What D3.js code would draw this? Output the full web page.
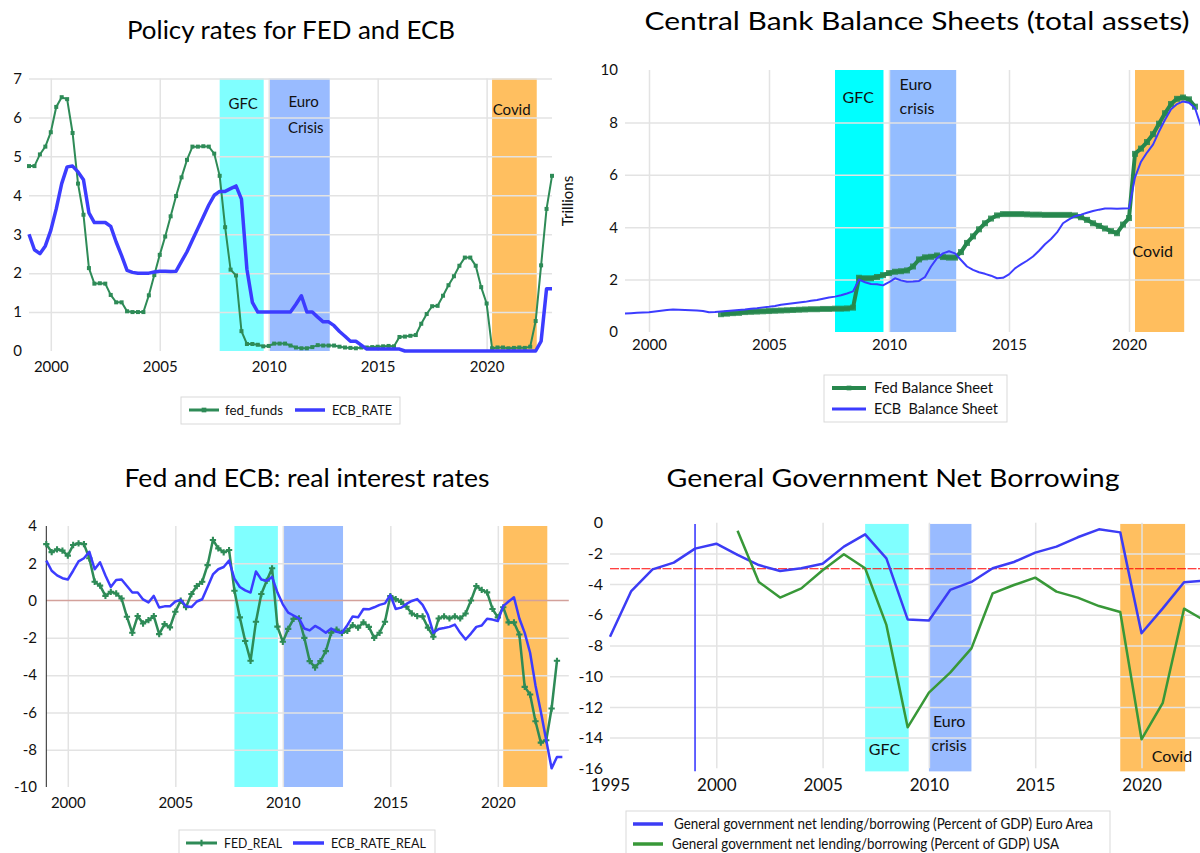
<!DOCTYPE html>
<html>
<head>
<meta charset="utf-8">
<script src="https://cdn.jsdelivr.net/npm/d3@7"></script>
<style>
  body { margin: 0; background: #fff; }
  svg { display: block; }
</style>
</head>
<body>
<div id="viz"></div>
<script>
// ---------------- data ----------------
// quarterly series, first value = 1999 Q1 unless noted
const fedFunds = [
  4.75,4.75,5.05,5.25, 5.62,6.27,6.52,6.47, 5.6,4.3,3.5,2.13, 1.73,1.74,1.73,1.44,
  1.25,1.25,1.02,1.0, 1.0,1.0,1.43,1.95, 2.47,2.94,3.46,3.98, 4.46,4.91,5.25,5.25,
  5.26,5.25,5.07,4.5, 3.18,2.09,1.94,0.51, 0.18,0.18,0.16,0.12, 0.13,0.19,0.19,0.19,
  0.14,0.09,0.07,0.07, 0.1,0.15,0.14,0.14, 0.14,0.11,0.09,0.08, 0.07,0.09,0.09,0.1,
  0.11,0.12,0.13,0.12, 0.36,0.37,0.39,0.41, 0.7,0.95,1.15,1.16, 1.42,1.69,1.92,2.19,
  2.4,2.4,2.19,1.64, 1.22,0.07,0.09,0.09, 0.07,0.08,0.09,0.08, 0.11,0.77,2.2,3.65,
  4.5
];
const ecbRate = [
  3.0,2.6,2.5,2.7, 3.1,3.65,4.3,4.73, 4.75,4.6,4.4,3.55, 3.3,3.3,3.3,3.2,
  2.8,2.45,2.07,2.02, 2.0,2.0,2.0,2.03, 2.05,2.05,2.04,2.05, 2.3,2.55,2.85,3.15,
  3.45,3.75,4.0,4.1, 4.1,4.17,4.24,3.9, 2.1,1.25,1.0,1.0, 1.0,1.0,1.0,1.0,
  1.0,1.2,1.42,1.0, 1.0,0.87,0.75,0.75, 0.65,0.5,0.38,0.25, 0.25,0.15,0.05,0.05,
  0.05,0.05,0.05,0.05, 0.05,0.0,0.0,0.0, 0,0,0,0, 0,0,0,0,
  0,0,0,0, 0,0,0,0, 0,0,0,0, 0.0,0.0,0.25,1.6,
  1.6
];
// Fed balance sheet starts 2003 Q1 (trillions)
const fedBalanceStart = 2003;
const fedBalance = [
  0.68,0.7,0.72,0.73, 0.76,0.77,0.78,0.79, 0.8,0.81,0.82,0.83, 0.84,0.85,0.86,0.87,
  0.87,0.88,0.88,0.89, 0.89,0.9,0.93,2.07, 2.05,2.05,2.1,2.17, 2.25,2.3,2.32,2.35,
  2.5,2.77,2.85,2.87, 2.92,2.86,2.84,2.84, 3.05,3.4,3.65,3.92, 4.15,4.33,4.45,4.5,
  4.5,4.5,4.5,4.49, 4.48,4.48,4.47,4.47, 4.47,4.47,4.47,4.45, 4.38,4.28,4.15,4.05,
  3.95,3.85,3.77,4.1, 4.35,6.8,7.0,7.25, 7.55,7.95,8.35,8.7, 8.9,8.95,8.88,8.6
];
const ecbBalance = [
  0.71,0.72,0.73,0.74, 0.75,0.78,0.81,0.84, 0.86,0.85,0.84,0.83, 0.82,0.8,0.75,0.76,
  0.78,0.8,0.82,0.84, 0.86,0.89,0.91,0.94, 0.96,0.99,1.04,1.07, 1.1,1.13,1.15,1.19,
  1.22,1.27,1.32,1.35, 1.4,1.47,1.55,2.0, 1.9,1.83,1.82,1.78, 1.9,2.05,1.97,1.92,
  1.93,1.95,2.1,2.5, 2.82,3.0,3.08,3.0, 2.75,2.5,2.37,2.28, 2.22,2.15,2.05,2.07,
  2.2,2.43,2.58,2.72, 2.88,3.1,3.35,3.55, 3.8,4.15,4.3,4.42, 4.48,4.55,4.62,4.67,
  4.71,4.71,4.7,4.71, 4.72,5.9,6.5,6.85, 7.15,7.65,8.1,8.5, 8.7,8.8,8.75,8.55,
  7.85
];
const fedReal = [
  3.03,2.6,2.75,2.68, 2.41,2.98,3.07,3.03, 2.27,1.01,0.8,0.25, 0.47,0.38,0.11,-0.87,
  -1.73,-0.83,-1.23,-1.05, -0.83,-1.8,-1.26,-1.44, -0.6,-0.01,-0.35,0.35, 0.78,1.01,1.9,3.25,
  2.8,2.59,2.71,0.53, -0.9,-2.17,-3.23,-1.14, 0.35,1.06,1.73,-1.4, -2.21,-1.52,-0.98,-0.95,
  -2.0,-3.25,-3.59,-3.25, -2.71,-1.73,-1.56,-1.73, -1.63,-1.32,-1.45,-1.17, -1.41,-2.0,-1.73,-1.14,
  0.24,0.08,-0.07,-0.33, -0.69,-0.83,-0.85,-1.45, -1.94,-0.96,-0.85,-0.96, -0.85,-0.96,-0.69,0.0,
  0.78,0.57,0.44,-0.45, -0.9,-0.36,-1.17,-1.17, -1.82,-4.63,-5.04,-6.47, -7.62,-7.49,-5.79,-3.23
];
const ecbRateReal = [
  2.14,1.6,1.35,1.2, 1.13,1.6,2.1,2.27, 2.62,1.68,2.05,1.35, 0.73,1.1,1.13,0.78,
  0.43,0.43,0.06,-0.1, 0.25,-0.37,-0.31,-0.31, -0.05,0.04,-0.31,-0.35, -0.05,0.07,0.73,1.4,
  1.68,1.8,2.14,1.17, 0.73,0.55,0.43,1.56, 1.13,1.06,1.27,0.43, -0.2,-0.65,-0.8,-0.95,
  -1.5,-1.6,-1.36,-1.52, -1.73,-1.5,-1.68,-1.73, -1.32,-0.85,-0.9,-0.45, -0.47,-0.36,-0.23,-0.15,
  0.3,-0.45,-0.38,-0.18, -0.02,0.08,-0.23,-0.77, -1.73,-1.52,-1.47,-1.41, -1.29,-1.73,-2.09,-1.77,
  -1.41,-1.34,-0.98,-1.02, -1.1,-0.3,-0.05,0.18, -0.96,-1.73,-2.8,-4.55, -5.97,-7.49,-9.0,-8.39,
  -8.39
];
// annual general government net lending/borrowing, % of GDP
const euroAreaYears = d3.range(1995, 2024);
const euroAreaBalance = [
  -7.43,-4.45,-3.04,-2.6,-1.69,-1.37,-2.1,-2.76,-3.15,-2.97,-2.67,-1.56,-0.76,-2.32,-6.3,
  -6.37,-4.38,-3.86,-2.97,-2.56,-1.95,-1.56,-0.95,-0.43,-0.63,-7.2,-5.58,-3.88,-3.77
];
const usaYears = d3.range(2001, 2024);
const usaBalance = [
  -0.52,-3.86,-4.88,-4.28,-3.1,-2.06,-2.97,-6.66,-13.33,-11.07,-9.77,-8.19,-4.6,-4.06,-3.58,
  -4.49,-4.88,-5.43,-5.82,-14.11,-11.73,-5.6,-6.4
];

const crisisNames = ["GFC", "Euro crisis", "Covid"];
const crisisStartQ = [2007.75, 2010.03, 2020.25];
const crisisEndQ = [2009.77, 2012.8, 2022.3];
const crisisStartA = [2007, 2010, 2019];
const crisisEndA = [2009.05, 2012, 2022.05];

const yearTicks = [2000, 2005, 2010, 2015, 2020];
const govYearTicks = [1995, 2000, 2005, 2010, 2015, 2020];
const rateTicks = [0, 1, 2, 3, 4, 5, 6, 7];
const balanceTicks = [0, 2, 4, 6, 8, 10];
const realTicks = [4, 2, 0, -2, -4, -6, -8, -10];
const govTicks = [0, -2, -4, -6, -8, -10, -12, -14, -16];

// ---------------- helpers ----------------
const FONT = "Lato, 'Noto Sans', sans-serif";
const GRID = "#e3e3e3";
const GREEN = "#2e8b57";
const BLUE = "#3c3cff";
const bandFill = ["#80ffff", "#99bbff", "#ffbf60"];

const svg = d3.select("#viz").append("svg")
  .attr("width", 1200).attr("height", 853)
  .style("font-family", FONT);

const quarterly = (vals, start) => vals.map((v, i) => ({ t: start + i / 4, v }));
const annual = (years, vals) => vals.map((v, i) => ({ t: years[i], v }));

function title(text, cx, base, w) {
  svg.append("text")
    .attr("x", cx).attr("y", base)
    .attr("text-anchor", "middle")
    .attr("font-size", 25)
    .attr("textLength", w).attr("lengthAdjust", "spacingAndGlyphs")
    .text(text);
}

function bands(g, x, top, bottom, starts, ends, fills) {
  g.selectAll("rect.band")
    .data(starts.map((s, i) => ({ s, e: ends[i], fill: fills[i] })))
    .join("rect")
    .attr("class", "band")
    .attr("x", d => x(d.s))
    .attr("width", d => x(d.e) - x(d.s))
    .attr("y", top)
    .attr("height", bottom - top)
    .attr("fill", d => d.fill);
}

function grid(g, x, y, xs, ys) {
  const [x0, x1] = x.range();
  const [yb, yt] = y.range();
  g.append("g").attr("transform", `translate(${x0},0)`)
    .call(d3.axisLeft(y).tickValues(ys).tickSize(-(x1 - x0)).tickFormat(""))
    .call(a => a.select(".domain").remove())
    .selectAll("line").attr("stroke", GRID).attr("stroke-width", 1.5);
  g.append("g").attr("transform", `translate(0,${yb})`)
    .call(d3.axisBottom(x).tickValues(xs).tickSize(-(yb - yt)).tickFormat(""))
    .call(a => a.select(".domain").remove())
    .selectAll("line").attr("stroke", GRID).attr("stroke-width", 1.5);
}

function xLabels(g, x, ticks, base, fs) {
  const a = g.append("g").attr("transform", `translate(0,${base})`)
    .call(d3.axisBottom(x).tickValues(ticks).tickSize(0).tickPadding(0).tickFormat(d => String(d)));
  a.select(".domain").remove();
  a.attr("font-family", FONT).attr("font-size", fs);
  a.selectAll("text").attr("y", 0).attr("dy", 0).attr("fill", "#111");
}

function yLabels(g, y, ticks, right, fs) {
  const a = g.append("g").attr("transform", `translate(${right},0)`)
    .call(d3.axisLeft(y).tickValues(ticks).tickSize(0).tickPadding(0).tickFormat(d => String(d)));
  a.select(".domain").remove();
  a.attr("font-family", FONT).attr("font-size", fs);
  a.selectAll("text").attr("fill", "#111");
}

function note(g, text, x, y, anchor, fs) {
  g.append("text").attr("x", x).attr("y", y)
    .attr("text-anchor", anchor).attr("font-size", fs).attr("fill", "#111")
    .text(text);
}

function legendBox(x, y, w, h) {
  svg.append("rect").attr("x", x).attr("y", y).attr("width", w).attr("height", h)
    .attr("fill", "#fff").attr("stroke", "#d9d9d9");
}

function legendItem(xa, xb, y, color, sw, marker, label, tx, tw, fs) {
  svg.append("line").attr("x1", xa).attr("x2", xb).attr("y1", y).attr("y2", y)
    .attr("stroke", color).attr("stroke-width", sw);
  if (marker) {
    svg.append("path").attr("transform", `translate(${(xa + xb) / 2},${y})`)
      .attr("d", d3.symbol(marker, 22)()).attr("fill", color);
  }
  svg.append("text").attr("x", tx).attr("y", y + fs * 0.36)
    .attr("font-size", fs).attr("fill", "#111")
    .style("white-space", "pre")
    .attr("textLength", tw).attr("lengthAdjust", "spacingAndGlyphs")
    .text(label);
}

// ---------------- panel 1: policy rates ----------------
{
  const g = svg.append("g");
  const x = d3.scaleLinear().domain([1999, 2023]).range([29, 552]);
  const y = d3.scaleLinear().domain([0, 7]).range([351, 78.5]);
  bands(g, x, y(7), y(0), crisisStartQ, crisisEndQ, bandFill);
  grid(g, x, y, yearTicks, rateTicks.slice(1));
  note(g, "GFC", x(2008.83), y(6.22), "middle", 15);
  note(g, "Euro", x(2011.6), y(6.27), "middle", 15);
  note(g, "Crisis", x(2011.7), y(5.6), "middle", 15);
  note(g, "Covid", x(2021.15), y(6.06), "middle", 15);

  const line = d3.line().x(d => x(d.t)).y(d => y(d.v));
  const fed = quarterly(fedFunds, 1999);
  g.append("path").datum(fed).attr("d", line)
    .attr("fill", "none").attr("stroke", GREEN).attr("stroke-width", 2);
  g.selectAll("rect.m").data(fed).join("rect").attr("class", "m")
    .attr("x", d => x(d.t) - 2).attr("y", d => y(d.v) - 2)
    .attr("width", 4).attr("height", 4).attr("fill", GREEN);
  g.append("path").datum(quarterly(ecbRate, 1999)).attr("d", line)
    .attr("fill", "none").attr("stroke", BLUE).attr("stroke-width", 3.5)
    .attr("stroke-linejoin", "round");

  xLabels(g, x, yearTicks, 372, 15);
  yLabels(g, y, rateTicks, 22, 15);
  title("Policy rates for FED and ECB", 291, 39, 328);

  legendBox(181, 397, 219, 27);
  legendItem(189, 219, 410, GREEN, 3, d3.symbolSquare, "fed_funds", 225, 58, 13.5);
  legendItem(295, 325, 410, BLUE, 3.5, null, "ECB_RATE", 332, 60, 13.5);
}

// ---------------- panel 2: balance sheets ----------------
{
  const g = svg.append("g");
  const x = d3.scaleLinear().domain([1999, 2023]).range([625, 1201]);
  const y = d3.scaleLinear().domain([0, 10]).range([332, 70]);
  bands(g, x, y(10), y(0), crisisStartQ, crisisEndQ, ["#00ffff", "#94bdff", "#ffbe5e"]);
  grid(g, x, y, yearTicks, [2, 4, 6, 8]);
  note(g, "GFC", x(2008.72), y(8.74), "middle", 16);
  note(g, "Euro", x(2010.44), y(9.24), "start", 16);
  note(g, "crisis", x(2010.44), y(8.32), "start", 16);
  note(g, "Covid", x(2020.99), y(2.86), "middle", 16);

  const line = d3.line().x(d => x(d.t)).y(d => y(d.v));
  const fed = quarterly(fedBalance, fedBalanceStart);
  g.append("path").datum(fed).attr("d", line)
    .attr("fill", "none").attr("stroke", "#27874d").attr("stroke-width", 4)
    .attr("stroke-linejoin", "round");
  g.selectAll("rect.m").data(fed).join("rect").attr("class", "m")
    .attr("x", d => x(d.t) - 3).attr("y", d => y(d.v) - 3)
    .attr("width", 6).attr("height", 6).attr("fill", "#27874d").attr("opacity", 0.85);
  g.append("path").datum(quarterly(ecbBalance, 1999)).attr("d", line)
    .attr("fill", "none").attr("stroke", BLUE).attr("stroke-width", 2)
    .attr("stroke-linejoin", "round");

  xLabels(g, x, yearTicks, 350, 15);
  yLabels(g, y, balanceTicks, 618, 15);
  svg.append("text").attr("transform", "translate(573,201) rotate(-90)")
    .attr("text-anchor", "middle").attr("font-size", 15).attr("fill", "#111")
    .text("Trillions");
  title("Central Bank Balance Sheets (total assets)", 917, 30, 545);

  legendBox(824, 375, 183, 47);
  legendItem(832, 866, 388, "#27874d", 4, d3.symbolSquare, "Fed Balance Sheet", 874, 119, 14.5);
  legendItem(832, 866, 409, BLUE, 3, null, "ECB  Balance Sheet", 874, 124, 14.5);
}

// ---------------- panel 3: real rates ----------------
{
  const g = svg.append("g");
  const x = d3.scaleLinear().domain([1999, 2023.3]).range([46.3, 568.8]);
  const y = d3.scaleLinear().domain([-10, 4]).range([787, 526]);
  bands(g, x, y(4), y(-10), crisisStartQ, crisisEndQ, bandFill);
  grid(g, x, y, yearTicks, [2, -2, -4, -6, -8]);
  g.append("line").attr("x1", x(1999)).attr("x2", x(2023.3))
    .attr("y1", y(0)).attr("y2", y(0))
    .attr("stroke", "#d3a19b").attr("stroke-width", 1.6);
  g.append("line").attr("x1", x(1999)).attr("x2", x(1999))
    .attr("y1", y(4)).attr("y2", y(-10))
    .attr("stroke", "#222").attr("stroke-width", 1);

  const line = d3.line().x(d => x(d.t)).y(d => y(d.v));
  const fed = quarterly(fedReal, 1999);
  g.append("path").datum(fed).attr("d", line)
    .attr("fill", "none").attr("stroke", GREEN).attr("stroke-width", 2.5)
    .attr("stroke-linejoin", "round");
  g.selectAll("path.m").data(fed).join("path").attr("class", "m")
    .attr("transform", d => `translate(${x(d.t)},${y(d.v)})`)
    .attr("d", d3.symbol(d3.symbolCross, 22)()).attr("fill", GREEN);
  g.append("path").datum(quarterly(ecbRateReal, 1999)).attr("d", line)
    .attr("fill", "none").attr("stroke", BLUE).attr("stroke-width", 2.5)
    .attr("stroke-linejoin", "round");

  xLabels(g, x, yearTicks, 808, 15);
  yLabels(g, y, realTicks, 37, 15);
  title("Fed and ECB: real interest rates", 307, 487, 365);

  legendBox(179, 830, 256, 30);
  legendItem(186, 217, 843, GREEN, 3, d3.symbolCross, "FED_REAL", 224, 58, 13.5);
  legendItem(293, 324, 843, BLUE, 3.5, null, "ECB_RATE_REAL", 331, 95, 13.5);
}

// ---------------- panel 4: government net borrowing ----------------
{
  const g = svg.append("g");
  const x = d3.scaleLinear().domain([1995, 2023]).range([610, 1205.3]);
  const y = d3.scaleLinear().domain([-16, 0]).range([768.3, 522.7]);
  bands(g, x, y(-0.08), y(-16.2), crisisStartA, crisisEndA, bandFill);
  grid(g, x, y, yearTicks, [-2, -4, -6, -8, -10, -12, -14]);
  note(g, "GFC", x(2007.91), y(-15.13), "middle", 16);
  note(g, "Euro", x(2010.95), y(-13.31), "middle", 16);
  note(g, "crisis", x(2010.95), y(-14.87), "middle", 16);
  note(g, "Covid", x(2021.43), y(-15.59), "middle", 16);

  g.append("line").attr("x1", x(1999)).attr("x2", x(1999))
    .attr("y1", y(-0.08)).attr("y2", y(-16.2))
    .attr("stroke", "#2f2fff").attr("stroke-width", 1.5);
  g.append("line").attr("x1", x(1995)).attr("x2", x(2023))
    .attr("y1", y(-3)).attr("y2", y(-3))
    .attr("stroke", "#ff0000").attr("stroke-width", 1).attr("stroke-dasharray", "9,1.5");

  const line = d3.line().x(d => x(d.t)).y(d => y(d.v));
  g.append("path").datum(annual(euroAreaYears, euroAreaBalance)).attr("d", line)
    .attr("fill", "none").attr("stroke", "#3c3cf5").attr("stroke-width", 2.5)
    .attr("stroke-linejoin", "round");
  g.append("path").datum(annual(usaYears, usaBalance)).attr("d", line)
    .attr("fill", "none").attr("stroke", "#389838").attr("stroke-width", 2.5)
    .attr("stroke-linejoin", "round");

  xLabels(g, x, govYearTicks, 791, 17);
  yLabels(g, y, govTicks, 603, 16);
  title("General Government Net Borrowing", 893, 487, 453);

  legendBox(626, 811, 484, 50);
  legendItem(633, 663, 824, "#3c3cf5", 3.5, null,
    "General government net lending/borrowing (Percent of GDP) Euro Area", 674, 419, 15);
  legendItem(633, 663, 844, "#389838", 3.5, null,
    "General government net lending/borrowing (Percent of GDP) USA", 672, 387, 15);
}
</script>
</body>
</html>
